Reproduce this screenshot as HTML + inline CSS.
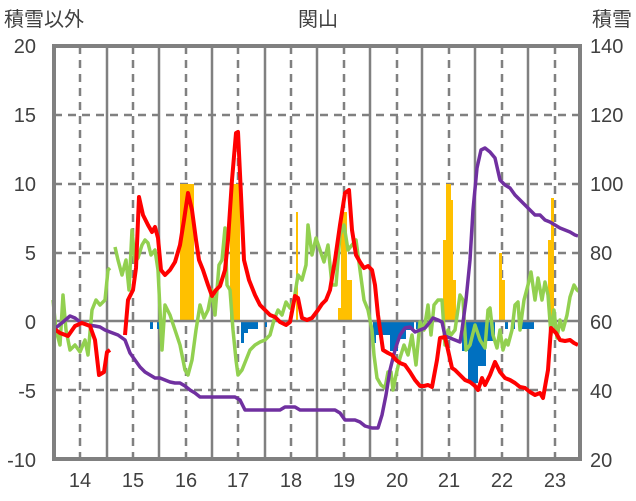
<!DOCTYPE html>
<html><head><meta charset="utf-8"><style>
html,body{margin:0;padding:0;background:#fff;}
svg{display:block;font-family:"Liberation Sans","Noto Sans CJK JP",sans-serif;}
</style></head><body>
<svg width="636" height="501" viewBox="0 0 636 501">
<rect width="636" height="501" fill="#fff"/>
<g font-size="20" fill="#404040">
<text x="4" y="26">積雪以外</text>
<text x="318" y="26" text-anchor="middle">関山</text>
<text x="632" y="26" text-anchor="end">積雪</text>
</g>
<g font-size="20" fill="#404040" text-anchor="end">
<text x="36" y="53">20</text><text x="36" y="122">15</text><text x="36" y="191">10</text>
<text x="36" y="260">5</text><text x="36" y="329">0</text><text x="36" y="398">-5</text><text x="36" y="467">-10</text>
</g>
<g font-size="20" fill="#404040" text-anchor="start">
<text x="590" y="53">140</text><text x="590" y="122">120</text><text x="590" y="191">100</text>
<text x="590" y="260">80</text><text x="590" y="329">60</text><text x="590" y="398">40</text><text x="590" y="467">20</text>
</g>
<g font-size="20" fill="#404040" text-anchor="middle">
<text x="80" y="487">14</text><text x="133" y="487">15</text><text x="186" y="487">16</text><text x="238" y="487">17</text>
<text x="291" y="487">18</text><text x="344" y="487">19</text><text x="397" y="487">20</text><text x="449" y="487">21</text>
<text x="502" y="487">22</text><text x="555" y="487">23</text>
</g>
<g stroke="#808080" stroke-width="2.5" stroke-dasharray="8,6">
<line x1="54" y1="115" x2="580" y2="115"/><line x1="54" y1="184" x2="580" y2="184"/>
<line x1="54" y1="253" x2="580" y2="253"/><line x1="54" y1="390" x2="580" y2="390"/>
<line x1="80" y1="46" x2="80" y2="459"/><line x1="133" y1="46" x2="133" y2="459"/><line x1="186" y1="46" x2="186" y2="459"/>
<line x1="238" y1="46" x2="238" y2="459"/><line x1="291" y1="46" x2="291" y2="459"/><line x1="344" y1="46" x2="344" y2="459"/>
<line x1="397" y1="46" x2="397" y2="459"/><line x1="449" y1="46" x2="449" y2="459"/><line x1="502" y1="46" x2="502" y2="459"/>
<line x1="555" y1="46" x2="555" y2="459"/>
</g>
<g stroke="#808080" stroke-width="2.5">
<line x1="107" y1="46" x2="107" y2="459"/><line x1="159" y1="46" x2="159" y2="459"/><line x1="212" y1="46" x2="212" y2="459"/>
<line x1="265" y1="46" x2="265" y2="459"/><line x1="317" y1="46" x2="317" y2="459"/><line x1="370" y1="46" x2="370" y2="459"/>
<line x1="422" y1="46" x2="422" y2="459"/><line x1="475" y1="46" x2="475" y2="459"/><line x1="528" y1="46" x2="528" y2="459"/>
</g>
<g fill="#FFC000">
<rect x="180" y="184" width="14" height="137"/>
<rect x="230" y="184" width="10" height="137"/>
<rect x="296" y="212" width="2" height="109"/>
<rect x="338" y="308" width="3" height="13"/>
<rect x="341" y="212" width="6" height="109"/>
<rect x="347" y="280" width="5" height="41"/>
<rect x="443" y="240" width="3" height="81"/>
<rect x="446" y="184" width="5" height="137"/>
<rect x="451" y="200" width="2" height="121"/>
<rect x="453" y="280" width="3" height="41"/>
<rect x="499" y="253" width="3" height="68"/>
<rect x="502" y="280" width="3" height="41"/>
<rect x="548" y="240" width="3" height="81"/>
<rect x="551" y="198" width="3" height="123"/>
</g>
<g fill="#0070C0">
<rect x="150" y="321" width="3" height="8"/><rect x="157" y="321" width="3" height="8"/>
<rect x="241" y="321" width="3" height="22"/><rect x="244" y="321" width="4" height="12"/>
<rect x="248" y="321" width="10" height="8"/><rect x="265" y="321" width="2" height="6"/>
<rect x="373" y="321" width="3" height="22"/><rect x="376" y="321" width="14" height="14"/>
<rect x="390" y="321" width="8" height="30"/><rect x="398" y="321" width="8" height="18"/>
<rect x="406" y="321" width="8" height="9"/><rect x="416" y="321" width="3" height="8"/>
<rect x="462" y="321" width="6" height="30"/><rect x="468" y="321" width="10" height="62"/>
<rect x="478" y="321" width="8" height="45"/><rect x="486" y="321" width="9" height="20"/>
<rect x="505" y="321" width="3" height="8"/><rect x="512" y="321" width="3" height="8"/><rect x="520" y="321" width="14" height="8"/>
</g>
<line x1="54" y1="321" x2="580" y2="321" stroke="#808080" stroke-width="2.5"/>
<polyline fill="none" stroke="#92D050" stroke-width="3.5" stroke-linejoin="round" points="53,300 56,330 60,345 63,295 66,330 70,350 75,345 80,352 85,340 88,355 92,310 96,300 100,305 105,300 108,270 110,268"/>
<polyline fill="none" stroke="#92D050" stroke-width="3.5" stroke-linejoin="round" points="115,247 118,260 122,275 126,260 129,290 132,230 135,262 138,258 142,245 145,240 148,243 151,255 155,250 158,270 160,310 162,350 165,305 170,315 175,330 180,345 185,370 188,375 192,360 196,330 200,305 204,318 208,310 212,290 215,315 219,265 222,260 225,228 227,285 230,290 233,330 236,360 238,375 242,370 246,360 250,350 255,345 260,342 265,340 270,335 274,320 278,310 282,315 286,302 290,308 294,300 298,275 302,280 306,265 308,225 312,255 316,238 320,250 324,262 328,245 332,285 336,285 340,235 344,225 348,250 352,245 356,240 360,270 364,300 368,310 372,330 374,355 377,378 381,385 385,388 388,372 391,372 393,390 396,375 400,358 404,345 408,355 412,335 416,365 420,322 424,330 428,305 431,335 434,305 438,300 442,300 445,345 448,330 451,335 455,330 460,295 463,300 466,350 470,345 475,325 480,340 485,348 488,310 490,308 493,335 497,348 500,330 503,350 506,340 508,345 512,330 515,305 518,302 520,330 524,300 528,285 531,272 535,300 538,278 542,300 545,282 548,295 551,335 554,310 557,338 560,320 563,330 567,315 570,297 574,285 577,290 580,292"/>
<polyline fill="none" stroke="#7030A0" stroke-width="3.5" stroke-linejoin="round" points="53,330 58,326 63,322 70,316 75,318 80,322 88,325 95,326 100,327 105,330 110,332 118,335 125,340 130,353 135,360 140,367 145,372 150,375 155,378 160,378 165,380 170,382 175,383 180,383 185,386 190,390 195,393 200,397 235,397 240,400 245,410 280,410 285,407 295,407 300,410 335,410 340,413 345,420 355,420 360,422 365,426 372,428 378,428 382,415 386,395 390,370 395,350 400,335 405,328 410,327 415,332 420,330 425,328 430,322 433,318 438,320 442,322 445,336 450,338 460,342 462,330 466,300 470,260 473,210 477,168 481,150 485,148 490,152 495,158 500,180 505,185 510,188 515,195 520,200 525,205 530,210 535,215 540,215 545,220 550,222 555,225 560,228 565,230 570,232 575,235 578,236"/>
<polyline fill="none" stroke="#FF0000" stroke-width="4" stroke-linejoin="round" points="53,328 60,333 68,336 75,326 82,323 90,326 95,340 99,375 104,372 107,352 110,350"/>
<polyline fill="none" stroke="#FF0000" stroke-width="4" stroke-linejoin="round" points="125,335 128,300 133,290 136,268 139,197 143,215 148,225 152,232 155,227 158,238 161,270 165,275 170,270 175,262 180,245 184,220 188,193 192,210 196,240 199,260 203,270 208,285 212,296 216,290 220,286 225,270 228,240 232,180 236,133 238,132 241,195 244,260 249,280 255,295 260,305 265,310 270,315 275,317 280,322 286,325 290,322 295,296 298,298 302,318 307,320 312,318 318,310 322,304 326,300 330,290 335,260 340,225 345,193 349,190 352,230 356,255 360,262 364,268 368,266 372,270 375,285 378,315 383,350 388,353 392,355 396,360 400,363 405,365 410,372 415,380 420,386 424,386 428,385 432,387 437,360 440,338 445,337 448,350 452,368 455,370 460,375 465,380 470,382 475,386 478,390 482,378 485,385 490,375 495,362 500,372 505,378 510,380 515,383 520,387 525,388 530,392 535,395 540,393 543,398 548,370 551,328 553,330 556,333 560,340 565,341 570,340 574,343 578,345"/>
<rect x="54" y="46" width="526" height="413" fill="none" stroke="#808080" stroke-width="4"/>
</svg>
</body></html>
